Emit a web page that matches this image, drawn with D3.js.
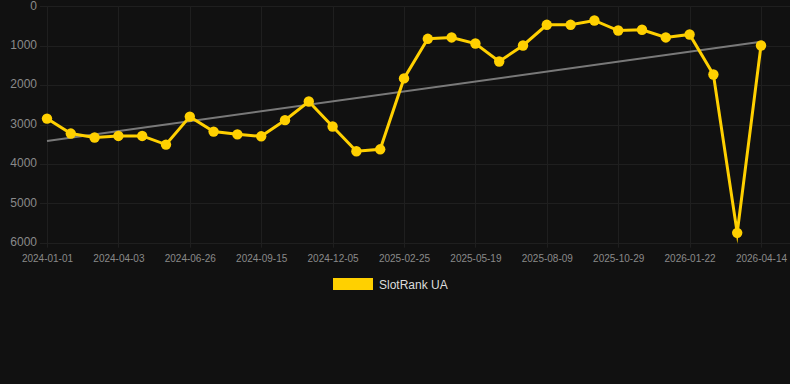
<!DOCTYPE html>
<html>
<head>
<meta charset="utf-8">
<script src="https://cdn.jsdelivr.net/npm/d3@7"></script>
<style>
  html, body { margin: 0; padding: 0; background: #111111; }
  svg { display: block; }
</style>
</head>
<body>
<svg id="chart" width="790" height="384"></svg>
<script>
// ---- data ----
const categories = [
  "2024-01-01","2024-02-01","2024-03-03","2024-04-03","2024-05-01","2024-05-29",
  "2024-06-26","2024-07-23","2024-08-19","2024-09-15","2024-10-12","2024-11-08",
  "2024-12-05","2025-01-01","2025-01-28","2025-02-25","2025-03-24","2025-04-21",
  "2025-05-19","2025-06-15","2025-07-12","2025-08-09","2025-09-05","2025-10-02",
  "2025-10-29","2025-11-26","2025-12-24","2026-01-22","2026-02-18","2026-03-17",
  "2026-04-14"
];
const rankValues = [
  2850, 3230, 3330, 3290, 3290, 3510,
  2800, 3180, 3250, 3300, 2890, 2415,
  3050, 3680, 3630, 1830, 825, 790,
  945, 1400, 995, 470, 470, 360,
  615, 595, 790, 715, 1730, 5750,
  995
];
const xTickLabels = [
  "2024-01-01","2024-04-03","2024-06-26","2024-09-15","2024-12-05","2025-02-25",
  "2025-05-19","2025-08-09","2025-10-29","2026-01-22","2026-04-14"
];
const yTickValues = [0, 1000, 2000, 3000, 4000, 5000, 6000];
const seriesName = "SlotRank UA";

// ---- layout ----
const svg = d3.select("#chart");
const plotLeft = 40, plotRight = 790;
const x = d3.scalePoint().domain(categories).range([47, 761]);
const y = d3.scaleLinear().domain([0, 6000]).range([6.3, 242.7]);

const gridColor = "#1f1f1f";
const tickColor = "#8a8a8a";
const gold = "#FFD000";

// horizontal grid
svg.append("g").selectAll("line").data(yTickValues).join("line")
  .attr("x1", plotLeft).attr("x2", plotRight)
  .attr("y1", d => Math.round(y(d)) + 0.5).attr("y2", d => Math.round(y(d)) + 0.5)
  .attr("stroke", gridColor).attr("stroke-width", 1);

// vertical grid at labeled ticks
svg.append("g").selectAll("line").data(xTickLabels).join("line")
  .attr("x1", d => Math.round(x(d)) + 0.5).attr("x2", d => Math.round(x(d)) + 0.5)
  .attr("y1", y(0)).attr("y2", y(6000) + 5)
  .attr("stroke", gridColor).attr("stroke-width", 1);

// y axis labels
const yAxis = d3.axisLeft(y).tickValues(yTickValues).tickSize(0).tickPadding(0)
  .tickFormat(d3.format("d"));
const gy = svg.append("g").attr("transform", "translate(37,-1)").call(yAxis);
gy.select(".domain").remove();
gy.selectAll("text").attr("fill", tickColor)
  .attr("font-family", "Liberation Sans, Arial, sans-serif").attr("font-size", 12);

// x axis labels
const xAxis = d3.axisBottom(x).tickValues(xTickLabels).tickSize(0).tickPadding(0);
const gx = svg.append("g").attr("transform", "translate(0,255)").call(xAxis);
gx.select(".domain").remove();
gx.selectAll("text").attr("fill", tickColor)
  .attr("font-family", "Liberation Sans, Arial, sans-serif").attr("font-size", 10);

// trend line (least squares on index)
const n = rankValues.length;
const idx = d3.range(n);
const mx = d3.mean(idx), my = d3.mean(rankValues);
const slope = d3.sum(idx, i => (i - mx) * (rankValues[i] - my)) / d3.sum(idx, i => (i - mx) ** 2);
const intercept = my - slope * mx;
svg.append("line")
  .attr("x1", x(categories[0])).attr("y1", y(intercept))
  .attr("x2", x(categories[n - 1])).attr("y2", y(intercept + slope * (n - 1)))
  .attr("stroke", "#8c8c8c").attr("stroke-width", 2).attr("stroke-opacity", 0.85);

// series line
const data = categories.map((c, i) => ({ c, v: rankValues[i] }));
svg.append("path").datum(data)
  .attr("fill", "none").attr("stroke", gold).attr("stroke-width", 3)
  .attr("stroke-linejoin", "miter").attr("stroke-miterlimit", 10)
  .attr("d", d3.line().x(d => x(d.c)).y(d => y(d.v)));

svg.append("g").selectAll("circle").data(data).join("circle")
  .attr("cx", d => x(d.c)).attr("cy", d => y(d.v)).attr("r", 5.2)
  .attr("fill", gold);

// legend
const lg = svg.append("g");
lg.append("rect").attr("x", 333).attr("y", 278).attr("width", 40).attr("height", 12)
  .attr("fill", gold);
lg.append("text").attr("x", 379).attr("y", 288.5).text(seriesName)
  .attr("fill", "#dddddd").attr("font-family", "Liberation Sans, Arial, sans-serif")
  .attr("font-size", 12);
</script>
</body>
</html>
